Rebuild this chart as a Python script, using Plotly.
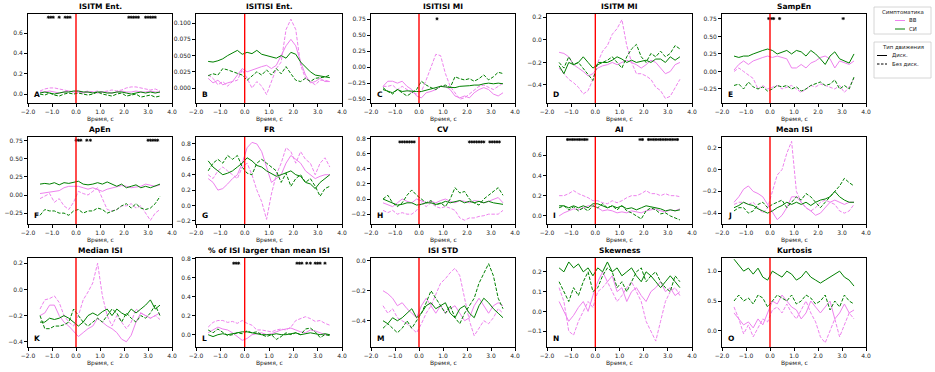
import plotly.graph_objects as go

TIME = [-1.5, -1.3, -1.1, -0.9, -0.7, -0.5, -0.3, -0.1, 0.1, 0.3, 0.5, 0.7, 0.9,
        1.1, 1.3, 1.5, 1.7, 1.9, 2.1, 2.3, 2.5, 2.7, 2.9, 3.1, 3.3, 3.5]

TITLES = ["ISITM Ent.", "ISITISI Ent.", "ISITISI MI", "ISITM MI", "SampEn",
          "ApEn", "FR", "CV", "AI", "Mean ISI",
          "Median ISI", "% of ISI larger than mean ISI", "ISI STD", "Skewness", "Kurtosis"]
LETTERS = ["A", "B", "C", "D", "E", "F", "G", "H", "I", "J", "K", "L", "M", "N", "O"]
X_TICKS = [-2.0, -1.0, 0.0, 1.0, 2.0, 3.0, 4.0]
STAR_LEVEL = 0.755

LEGEND_GROUP_TITLE = "Симптоматика"
LEGEND_GROUPS = ["ВВ", "СИ"]
LEGEND_TYPE_TITLE = "Тип движения"
LEGEND_TYPES = ["Диск.", "Без диск."]

# VV = ВВ, SI = СИ ; D = Диск., ND = Без диск.
A_VV_D = [0.02,0.02,0.03,0.02,0.01,0.02,0.03,0.02,0.02,0.01,0.02,0.02,0.01, 0.02,0.02,0.01,0.02,0.03,0.02,0.02,0.03,0.02,0.02,0.03,0.02,0.02]
A_VV_ND = [0.03,0.05,0.06,0.06,0.05,0.04,0.03,0.02,0.03,0.02,0.03,0.02,0.03, 0.02,0.03,0.04,0.03,0.04,0.06,0.07,0.07,0.06,0.05,0.04,0.05,0.03]
A_SI_D = [0.01,0.02,0.01,0.00,0.01,0.02,0.02,0.03,0.03,0.02,0.02,0.01,0.02, 0.02,0.01,0.01,0.02,0.02,0.01,0.00,0.01,0.02,0.01,0.02,0.01,0.02]
A_SI_ND = [0.00,-0.01,0.01,-0.01,-0.02,0.00,0.01,0.00,0.01,0.00,-0.01,0.00,0.02, 0.00,-0.01,-0.02,0.00,0.01,-0.02,-0.01,0.00,-0.03,-0.02,-0.01,-0.03,-0.02]

B_VV_D = [0.015,0.008,0.012,0.005,0.008,0.010,0.020,0.030,0.025,0.028,0.030,0.033,0.035, 0.030,0.035,0.050,0.065,0.075,0.065,0.040,0.020,0.008,0.010,0.015,0.010,0.010]
B_VV_ND = [0.020,0.015,0.005,0.010,0.003,0.010,0.012,0.028,0.015,0.000,0.010,0.003,-0.010, 0.010,0.030,0.040,0.090,0.106,0.090,0.035,0.015,0.010,0.005,0.012,0.012,0.010]
B_SI_D = [0.041,0.040,0.042,0.045,0.050,0.054,0.058,0.052,0.055,0.053,0.058,0.052,0.050, 0.048,0.046,0.050,0.046,0.055,0.052,0.040,0.032,0.025,0.020,0.019,0.018,0.016]
B_SI_ND = [0.019,0.022,0.020,0.030,0.028,0.025,0.022,0.020,0.012,0.018,0.025,0.020,0.028, 0.020,0.030,0.022,0.033,0.022,0.012,0.010,0.015,0.010,0.015,0.016,0.017,0.020]

C_VV_D = [-0.30,-0.22,-0.22,-0.25,-0.22,-0.30,-0.35,-0.45,-0.48,-0.40,-0.38,-0.35,-0.30, -0.30,-0.35,-0.45,-0.48,-0.45,-0.48,-0.40,-0.35,-0.32,-0.35,-0.42,-0.45,-0.40]
C_VV_ND = [-0.30,-0.30,-0.28,-0.35,-0.30,-0.35,-0.40,-0.42,-0.38,-0.20,0.00,0.20,0.18, -0.10,-0.30,-0.40,-0.50,-0.48,-0.42,-0.35,-0.30,-0.28,-0.32,-0.35,-0.30,-0.25]
C_SI_D = [-0.35,-0.38,-0.40,-0.35,-0.38,-0.37,-0.38,-0.38,-0.38,-0.36,-0.35,-0.33,-0.30, -0.31,-0.32,-0.32,-0.30,-0.30,-0.29,-0.28,-0.28,-0.26,-0.25,-0.26,-0.25,-0.26]
C_SI_ND = [-0.32,-0.38,-0.42,-0.35,-0.40,-0.45,-0.40,-0.35,-0.22,-0.28,-0.32,-0.35,-0.30, -0.28,-0.32,-0.15,-0.18,-0.20,-0.18,-0.22,-0.18,-0.12,-0.20,-0.15,-0.08,-0.10]

D_VV_D = [-0.11,-0.12,-0.15,-0.22,-0.25,-0.28,-0.32,-0.30,-0.25,-0.23,-0.22,-0.20,-0.22, -0.20,-0.18,-0.20,-0.22,-0.25,-0.22,-0.18,-0.20,-0.25,-0.30,-0.28,-0.22,-0.20]
D_VV_ND = [-0.25,-0.30,-0.35,-0.38,-0.42,-0.48,-0.45,-0.35,-0.20,-0.10,-0.05,0.05,0.10, 0.18,-0.05,-0.20,-0.30,-0.30,-0.32,-0.35,-0.42,-0.45,-0.52,-0.50,-0.42,-0.35]
D_SI_D = [-0.23,-0.30,-0.20,-0.22,-0.20,-0.15,-0.20,-0.25,-0.22,-0.20,-0.20,-0.18,-0.15, -0.17,-0.20,-0.18,-0.20,-0.19,-0.18,-0.20,-0.17,-0.17,-0.20,-0.15,-0.18,-0.15]
D_SI_ND = [-0.20,-0.25,-0.15,-0.22,-0.20,-0.25,-0.30,-0.36,-0.20,-0.20,-0.18,-0.15,-0.20, -0.25,-0.15,-0.08,-0.04,-0.15,-0.20,-0.12,-0.15,-0.10,-0.15,-0.12,-0.05,-0.08]

E_VV_D = [0.02,0.10,0.15,0.10,0.15,0.18,0.20,0.22,0.20,0.22,0.20,0.18,0.05, 0.05,0.10,0.05,0.12,0.15,0.20,0.22,0.18,0.05,0.15,0.12,0.10,0.15]
E_VV_ND = [0.00,0.05,0.00,-0.05,-0.10,-0.25,-0.20,-0.25,-0.22,-0.20,-0.25,-0.22,-0.20, -0.25,-0.30,-0.25,-0.20,-0.22,-0.18,-0.20,-0.22,-0.25,-0.20,-0.30,-0.22,-0.10]
E_SI_D = [0.22,0.20,0.22,0.22,0.25,0.28,0.30,0.32,0.30,0.25,0.28,0.30,0.25, 0.30,0.28,0.22,0.30,0.25,0.18,0.10,0.22,0.28,0.18,0.15,0.12,0.25]
E_SI_ND = [-0.20,-0.18,-0.25,-0.15,-0.22,-0.25,-0.22,-0.28,-0.25,-0.20,-0.22,-0.20,-0.25, -0.22,-0.28,-0.25,-0.20,-0.18,-0.15,-0.20,-0.18,-0.12,-0.25,-0.20,-0.25,-0.08]

F_VV_D = [0.02,0.03,0.05,0.05,0.06,0.10,0.12,0.12,0.12,0.10,0.08,0.10,0.08, 0.05,0.08,0.10,0.12,0.13,0.12,0.10,0.11,0.12,0.15,0.13,0.12,0.14]
F_VV_ND = [-0.05,-0.02,0.02,-0.10,-0.05,-0.15,-0.20,-0.10,0.05,0.02,0.00,0.05,0.10, -0.05,-0.20,-0.22,-0.20,-0.15,-0.15,-0.12,-0.18,-0.15,-0.25,-0.35,-0.25,-0.20]
F_SI_D = [0.15,0.16,0.15,0.17,0.14,0.17,0.16,0.18,0.19,0.15,0.14,0.15,0.17, 0.15,0.18,0.15,0.12,0.15,0.10,0.12,0.14,0.10,0.12,0.10,0.12,0.15]
F_SI_ND = [-0.28,-0.20,-0.22,-0.22,-0.25,-0.25,-0.28,-0.22,-0.20,-0.25,-0.22,-0.22,-0.18, -0.20,-0.25,-0.22,-0.20,-0.15,-0.12,-0.18,-0.12,-0.18,-0.20,-0.18,-0.12,-0.02]

G_VV_D = [0.35,0.30,0.20,0.22,0.28,0.35,0.40,0.55,0.75,0.82,0.80,0.70,0.50, 0.30,0.35,0.40,0.55,0.65,0.60,0.55,0.45,0.40,0.35,0.38,0.40,0.40]
G_VV_ND = [0.40,0.35,0.45,0.50,0.45,0.40,0.35,0.50,0.55,0.40,0.20,0.05,-0.18, 0.15,0.40,0.55,0.75,0.70,0.55,0.70,0.60,0.55,0.40,0.55,0.62,0.50]
G_SI_D = [0.58,0.50,0.45,0.40,0.42,0.45,0.50,0.55,0.62,0.58,0.52,0.50,0.45, 0.42,0.38,0.40,0.42,0.45,0.40,0.38,0.30,0.28,0.22,0.30,0.35,0.40]
G_SI_ND = [0.45,0.55,0.60,0.55,0.65,0.60,0.65,0.50,0.42,0.40,0.55,0.60,0.55, 0.50,0.45,0.30,0.42,0.25,0.35,0.40,0.30,0.35,0.25,0.12,0.22,0.25]

H_VV_D = [-0.05,-0.08,-0.10,-0.05,0.00,-0.03,-0.05,0.00,-0.02,-0.05,-0.03,-0.05,-0.02, 0.00,-0.03,-0.05,-0.02,-0.03,-0.05,-0.02,-0.03,-0.05,-0.03,0.00,0.02,-0.05]
H_VV_ND = [-0.15,-0.18,-0.15,-0.20,-0.18,-0.20,-0.20,-0.15,-0.05,-0.10,-0.05,-0.10,-0.12, -0.10,-0.12,-0.15,-0.25,-0.28,-0.25,-0.25,-0.23,-0.22,-0.20,-0.20,-0.20,-0.15]
H_SI_D = [0.00,-0.03,-0.05,-0.08,-0.07,-0.05,-0.05,-0.08,-0.07,-0.05,-0.05,-0.07,-0.06, -0.03,-0.05,-0.03,-0.02,-0.05,-0.03,-0.05,-0.03,-0.05,-0.03,-0.05,-0.06,-0.07]
H_SI_ND = [0.00,0.05,-0.05,-0.10,-0.05,0.05,0.12,0.05,0.00,-0.05,-0.02,-0.08,-0.05, -0.10,0.00,0.15,0.08,0.10,0.00,-0.05,-0.08,0.00,0.05,0.10,0.15,0.05]

I_VV_D = [0.00,0.03,0.05,0.07,0.06,0.08,0.10,0.10,0.08,0.05,0.06,0.05,0.03, 0.04,0.03,0.05,0.04,0.03,0.05,0.06,0.07,0.05,0.04,0.06,0.05,0.07]
I_VV_ND = [0.20,0.20,0.22,0.25,0.22,0.20,0.18,0.15,0.15,0.13,0.12,0.15,0.13, 0.15,0.18,0.20,0.20,0.22,0.25,0.22,0.22,0.20,0.22,0.20,0.20,0.19]
I_SI_D = [0.10,0.10,0.08,0.10,0.08,0.10,0.08,0.12,0.12,0.10,0.08,0.10,0.08, 0.10,0.07,0.08,0.06,0.08,0.10,0.09,0.08,0.07,0.05,0.06,0.05,0.06]
I_SI_ND = [0.08,0.10,0.06,0.09,0.05,0.08,0.05,0.10,0.08,0.12,0.08,0.10,0.06, 0.10,0.05,0.03,0.00,-0.03,0.05,0.08,0.06,0.02,0.03,0.00,-0.02,-0.04]

J_VV_D = [-0.30,-0.25,-0.18,-0.15,-0.20,-0.22,-0.25,-0.32,-0.40,-0.46,-0.42,-0.35,-0.25, -0.25,-0.30,-0.35,-0.38,-0.42,-0.40,-0.35,-0.30,-0.28,-0.30,-0.32,-0.30,-0.30]
J_VV_ND = [-0.32,-0.30,-0.30,-0.32,-0.30,-0.35,-0.40,-0.35,-0.20,-0.05,0.00,0.15,0.26, -0.20,-0.30,-0.35,-0.38,-0.35,-0.30,-0.28,-0.30,-0.32,-0.38,-0.40,-0.38,-0.32]
J_SI_D = [-0.35,-0.33,-0.30,-0.32,-0.33,-0.36,-0.38,-0.40,-0.38,-0.35,-0.33,-0.30,-0.32, -0.30,-0.32,-0.30,-0.33,-0.30,-0.28,-0.27,-0.25,-0.20,-0.25,-0.28,-0.30,-0.30]
J_SI_ND = [-0.38,-0.35,-0.35,-0.40,-0.38,-0.32,-0.30,-0.35,-0.32,-0.30,-0.28,-0.35,-0.30, -0.25,-0.28,-0.22,-0.25,-0.30,-0.35,-0.30,-0.25,-0.20,-0.15,-0.08,-0.12,-0.15]

K_VV_D = [-0.20,-0.18,-0.12,-0.12,-0.20,-0.25,-0.28,-0.32,-0.36,-0.33,-0.30,-0.28,-0.22, -0.25,-0.28,-0.30,-0.33,-0.38,-0.40,-0.35,-0.25,-0.18,-0.20,-0.22,-0.20,-0.18]
K_VV_ND = [-0.15,-0.08,-0.07,-0.05,-0.10,-0.20,-0.25,-0.28,-0.20,-0.08,-0.02,0.05,0.20, -0.05,-0.20,-0.28,-0.20,-0.25,-0.30,-0.25,-0.15,-0.18,-0.20,-0.22,-0.20,-0.23]
K_SI_D = [-0.25,-0.25,-0.22,-0.23,-0.22,-0.20,-0.22,-0.25,-0.28,-0.25,-0.20,-0.18,-0.20, -0.17,-0.15,-0.20,-0.15,-0.18,-0.20,-0.15,-0.18,-0.15,-0.12,-0.08,-0.15,-0.12]
K_SI_ND = [-0.20,-0.30,-0.30,-0.28,-0.28,-0.27,-0.25,-0.15,-0.20,-0.25,-0.28,-0.25,-0.22, -0.25,-0.20,-0.15,-0.18,-0.25,-0.18,-0.22,-0.25,-0.20,-0.22,-0.18,-0.12,-0.20]

L_VV_D = [0.02,0.05,0.08,0.06,0.05,0.02,-0.02,-0.06,-0.04,0.00,0.01,0.02,0.00, 0.01,0.03,0.05,0.06,0.07,0.05,0.03,0.02,0.05,0.04,0.02,0.00,0.00]
L_VV_ND = [0.08,0.13,0.15,0.15,0.13,0.14,0.12,0.15,0.12,0.10,0.05,0.05,0.04, 0.03,0.05,0.06,0.05,0.08,0.15,0.17,0.19,0.17,0.14,0.15,0.12,0.10]
L_SI_D = [0.00,-0.02,0.00,0.01,0.00,0.01,0.02,0.03,0.03,0.02,0.01,0.00,0.00, 0.00,0.01,0.00,0.00,0.01,0.02,0.00,0.01,0.02,0.01,0.00,0.01,0.00]
L_SI_ND = [0.05,0.02,0.06,0.02,-0.01,0.00,0.02,0.01,0.04,0.02,0.03,0.00,-0.02, 0.00,-0.05,-0.02,0.02,0.00,0.02,0.00,0.06,0.07,0.03,-0.03,0.00,-0.01]

M_VV_D = [-0.20,-0.22,-0.25,-0.30,-0.28,-0.32,-0.35,-0.38,-0.30,-0.25,-0.30,-0.35,-0.30, -0.35,-0.32,-0.30,-0.35,-0.40,-0.38,-0.30,-0.25,-0.30,-0.35,-0.30,-0.28,-0.30]
M_VV_ND = [-0.30,-0.35,-0.32,-0.38,-0.40,-0.42,-0.45,-0.48,-0.42,-0.35,-0.30,-0.22,-0.15, -0.12,-0.08,-0.05,-0.10,-0.25,-0.40,-0.50,-0.45,-0.40,-0.42,-0.38,-0.32,-0.35]
M_SI_D = [-0.40,-0.42,-0.38,-0.40,-0.38,-0.35,-0.32,-0.38,-0.35,-0.30,-0.28,-0.32,-0.30, -0.28,-0.35,-0.38,-0.32,-0.30,-0.35,-0.38,-0.30,-0.25,-0.28,-0.32,-0.35,-0.38]
M_SI_ND = [-0.45,-0.42,-0.45,-0.48,-0.45,-0.40,-0.45,-0.40,-0.35,-0.28,-0.20,-0.25,-0.30, -0.35,-0.30,-0.38,-0.42,-0.35,-0.30,-0.25,-0.15,-0.08,-0.02,-0.10,-0.25,-0.32]

N_VV_D = [0.05,0.00,-0.05,-0.02,0.02,0.05,0.00,0.08,0.15,0.20,0.15,0.18,0.10, 0.12,0.05,0.10,0.12,0.08,0.05,0.10,0.12,0.15,0.10,0.12,0.08,0.10]
N_VV_ND = [0.12,0.05,-0.10,-0.12,-0.05,0.00,0.05,0.02,0.10,0.12,0.15,0.10,0.05, 0.08,0.12,0.15,0.10,0.05,-0.05,-0.10,-0.15,-0.05,0.05,0.10,0.12,0.08]
N_SI_D = [0.22,0.20,0.25,0.22,0.24,0.20,0.22,0.18,0.22,0.20,0.25,0.20,0.22, 0.18,0.20,0.22,0.18,0.15,0.20,0.18,0.15,0.12,0.15,0.18,0.15,0.12]
N_SI_ND = [0.15,0.10,0.05,0.12,0.08,0.15,0.20,0.10,0.12,0.18,0.22,0.20,0.12, 0.15,0.10,0.15,0.20,0.22,0.15,0.18,0.20,0.15,0.12,0.10,0.18,0.15]

O_VV_D = [0.30,0.20,0.10,0.15,0.05,0.20,0.10,0.30,0.50,0.45,0.60,0.50,0.40, 0.35,0.20,0.30,0.50,0.40,0.30,0.40,0.50,0.20,0.30,0.45,0.30,0.35]
O_VV_ND = [0.40,0.20,-0.05,0.10,-0.10,0.05,0.20,0.15,0.35,0.40,0.30,0.45,0.30, 0.20,0.35,0.50,0.30,0.15,-0.10,-0.20,0.00,0.20,-0.10,0.10,0.30,0.20]
O_SI_D = [1.20,1.10,1.00,1.05,0.95,1.05,0.90,0.85,1.00,0.95,0.90,1.00,0.95, 0.85,0.90,1.00,0.90,0.85,0.80,0.85,0.90,0.95,1.00,0.90,0.85,0.75]
O_SI_ND = [0.50,0.60,0.50,0.55,0.45,0.60,0.55,0.40,0.50,0.60,0.55,0.50,0.60, 0.45,0.50,0.60,0.55,0.45,0.50,0.60,0.35,0.50,0.40,0.60,0.50,0.45]

# significance markers (time positions)
STARS_A = [-1.15, -1.05, -0.95, -0.7, -0.45, -0.35, -0.25, 2.2, 2.3, 2.4, 2.5, 2.6, 2.9, 3.0, 3.1, 3.2, 3.3]
STARS_C = [0.75]
STARS_E = [-0.05, 0.05, 0.15, 0.4, 3.05]
STARS_F = [0.0, 0.1, 0.2, 0.45, 0.6, 3.0, 3.1, 3.2, 3.3, 3.4]
STARS_H = [-0.8, -0.7, -0.6, -0.5, -0.4, -0.3, -0.2, 2.1, 2.2, 2.3, 2.4, 2.5, 2.6, 2.7, 2.95, 3.05, 3.15, 3.25, 3.35]
STARS_I = [-1.15, -1.05, -0.95, -0.85, -0.75, -0.65, -0.55, -0.45, -0.35, 1.85, 1.95,
           2.2, 2.3, 2.4, 2.5, 2.6, 2.7, 2.8, 2.9, 3.0, 3.1, 3.2, 3.3, 3.4]
STARS_L = [-0.45, -0.35, -0.25, 2.15, 2.25, 2.35, 2.55, 2.7, 2.9, 3.0, 3.1, 3.3]

SERIES = {
    "A": (A_VV_D, A_VV_ND, A_SI_D, A_SI_ND), "B": (B_VV_D, B_VV_ND, B_SI_D, B_SI_ND),
    "C": (C_VV_D, C_VV_ND, C_SI_D, C_SI_ND), "D": (D_VV_D, D_VV_ND, D_SI_D, D_SI_ND),
    "E": (E_VV_D, E_VV_ND, E_SI_D, E_SI_ND), "F": (F_VV_D, F_VV_ND, F_SI_D, F_SI_ND),
    "G": (G_VV_D, G_VV_ND, G_SI_D, G_SI_ND), "H": (H_VV_D, H_VV_ND, H_SI_D, H_SI_ND),
    "I": (I_VV_D, I_VV_ND, I_SI_D, I_SI_ND), "J": (J_VV_D, J_VV_ND, J_SI_D, J_SI_ND),
    "K": (K_VV_D, K_VV_ND, K_SI_D, K_SI_ND), "L": (L_VV_D, L_VV_ND, L_SI_D, L_SI_ND),
    "M": (M_VV_D, M_VV_ND, M_SI_D, M_SI_ND), "N": (N_VV_D, N_VV_ND, N_SI_D, N_SI_ND),
    "O": (O_VV_D, O_VV_ND, O_SI_D, O_SI_ND),
}
STARS = {"A": STARS_A, "C": STARS_C, "E": STARS_E, "F": STARS_F, "H": STARS_H, "I": STARS_I, "L": STARS_L}

for k, v in SERIES.items():
    for s in v:
        assert len(s) == len(TIME), (k, len(s))

# ---------------- layout / styling ----------------
W, H = 935, 372
COLS = [(28, 172), (196, 342), (371, 515), (547, 692), (722, 866)]   # page pixels
ROWS = [(14, 103), (137, 224), (258, 347)]
YRANGE = {"A": [-0.088, 0.787], "B": [-0.023, 0.114], "C": [-0.56, 0.83], "D": [-0.56, 0.23],
          "E": [-0.45, 0.82], "F": [-0.40, 0.80], "G": [-0.24, 0.89], "H": [-0.33, 0.82],
          "I": [-0.08, 0.78], "J": [-0.50, 0.30], "K": [-0.44, 0.24], "L": [-0.13, 0.81],
          "M": [-0.575, 0.018], "N": [-0.18, 0.27], "O": [-0.27, 1.22]}
YTICK = {"A": (0.2, ".1f"), "B": (0.025, ".3f"), "C": (0.25, ".2f"), "D": (0.2, ".1f"),
         "E": (0.25, ".2f"), "F": (0.25, ".2f"), "G": (0.2, ".1f"), "H": (0.2, ".1f"),
         "I": (0.2, ".1f"), "J": (0.2, ".1f"), "K": (0.2, ".1f"), "L": (0.2, ".1f"),
         "M": (0.2, ".1f"), "N": (0.1, ".1f"), "O": (0.5, ".1f")}

VIOLET = "violet"
GREEN = "green"
FONT = "DejaVu Sans"
TXT = "#222222"
DASH = "3.5px,1.6px"
STYLES = [(VIOLET, "solid"), (VIOLET, DASH), (GREEN, "solid"), (GREEN, DASH)]


def px(x):
    return x / W


def py(y):
    return 1 - y / H


fig = go.Figure()
layout = {}
shapes = []
annotations = []

for i, key in enumerate(LETTERS):
    r, c = divmod(i, 5)
    n = "" if i == 0 else str(i + 1)
    xa, ya = "x" + n, "y" + n
    x0, x1 = COLS[c]
    y0, y1 = ROWS[r]
    for data, (col, dash) in zip(SERIES[key], STYLES):
        fig.add_trace(go.Scatter(x=TIME, y=data, mode="lines", xaxis=xa, yaxis=ya,
                                 line=dict(color=col, dash=dash, width=1),
                                 showlegend=False, hoverinfo="skip"))
    if key in STARS:
        fig.add_trace(go.Scatter(x=STARS[key], y=[STAR_LEVEL] * len(STARS[key]), mode="markers",
                                 xaxis=xa, yaxis=ya, showlegend=False, hoverinfo="skip",
                                 marker=dict(symbol="asterisk-open", size=2.6, color="black",
                                             line=dict(color="black", width=0.8))))
    axis_common = dict(showline=True, linecolor="black", linewidth=0.8, mirror=True,
                       ticks="outside", ticklen=3, tickwidth=0.7, tickcolor="black",
                       showgrid=False, zeroline=False, automargin=False,
                       tickfont=dict(family=FONT, size=6, color=TXT))
    layout["xaxis" + n] = dict(axis_common, domain=[px(x0), px(x1)], anchor=ya,
                               range=[-2, 4], tickvals=X_TICKS, tickformat=".1f")
    dt, fmt = YTICK[key]
    layout["yaxis" + n] = dict(axis_common, domain=[py(y1), py(y0)], anchor=xa,
                               range=YRANGE[key], dtick=dt, tick0=0, tickformat=fmt)
    shapes.append(dict(type="line", xref=xa, yref=ya + " domain", x0=0, x1=0, y0=0, y1=1,
                       line=dict(color="red", width=1.4), layer="above"))
    annotations.append(dict(xref="paper", yref="paper", x=px((x0 + x1) / 2), y=py(y0 - 1),
                            xanchor="center", yanchor="bottom", showarrow=False,
                            text="<b>" + TITLES[i] + "</b>",
                            font=dict(family=FONT, size=7.5, color="black")))
    annotations.append(dict(xref="paper", yref="paper", x=px((x0 + x1) / 2), y=py(y1 + 16),
                            xanchor="center", yanchor="middle", showarrow=False,
                            text="Время, с", font=dict(family=FONT, size=6, color=TXT)))
    annotations.append(dict(xref=xa + " domain", yref=ya + " domain", x=0.03, y=0.02,
                            xanchor="left", yanchor="bottom", showarrow=False,
                            text="<b>" + key + "</b>",
                            font=dict(family=FONT, size=7.5, color="black")))


# ---- hand-drawn legend boxes (matplotlib style) ----
def legend_box(top, bottom, title, labels, line_styles, lx0, lx1, tx):
    shapes.append(dict(type="rect", xref="paper", yref="paper", x0=px(874), x1=px(931),
                       y0=py(bottom), y1=py(top), line=dict(color="#cccccc", width=0.8),
                       fillcolor="white", layer="above"))
    annotations.append(dict(xref="paper", yref="paper", x=px(902.5), y=py(top + 5),
                            xanchor="center", yanchor="middle", showarrow=False, text=title,
                            font=dict(family=FONT, size=5.4, color=TXT)))
    for j, (lab, (col, dash)) in enumerate(zip(labels, line_styles)):
        yy = top + 13.5 + 8.5 * j
        shapes.append(dict(type="line", xref="paper", yref="paper", x0=px(lx0), x1=px(lx1),
                           y0=py(yy), y1=py(yy), line=dict(color=col, width=1, dash=dash),
                           layer="above"))
        annotations.append(dict(xref="paper", yref="paper", x=px(tx), y=py(yy),
                                xanchor="left", yanchor="middle", showarrow=False, text=lab,
                                font=dict(family=FONT, size=5.4, color=TXT)))


legend_box(7, 34, LEGEND_GROUP_TITLE, LEGEND_GROUPS,
           [(VIOLET, "solid"), (GREEN, "solid")], 895, 905, 907)
legend_box(42, 78, LEGEND_TYPE_TITLE, LEGEND_TYPES,
           [("black", "solid"), ("black", "2.5px,1.5px")], 877, 887, 890)

fig.update_layout(width=W, height=H, margin=dict(l=0, r=0, t=0, b=0),
                  paper_bgcolor="white", plot_bgcolor="white", hovermode=False,
                  shapes=shapes, annotations=annotations, showlegend=False, **layout)
# remove the default 8px page margin so the figure fills the 935x372 window exactly
fig.write_html("out.html", config={"displayModeBar": False},
               post_script="document.body.style.margin='0';")
